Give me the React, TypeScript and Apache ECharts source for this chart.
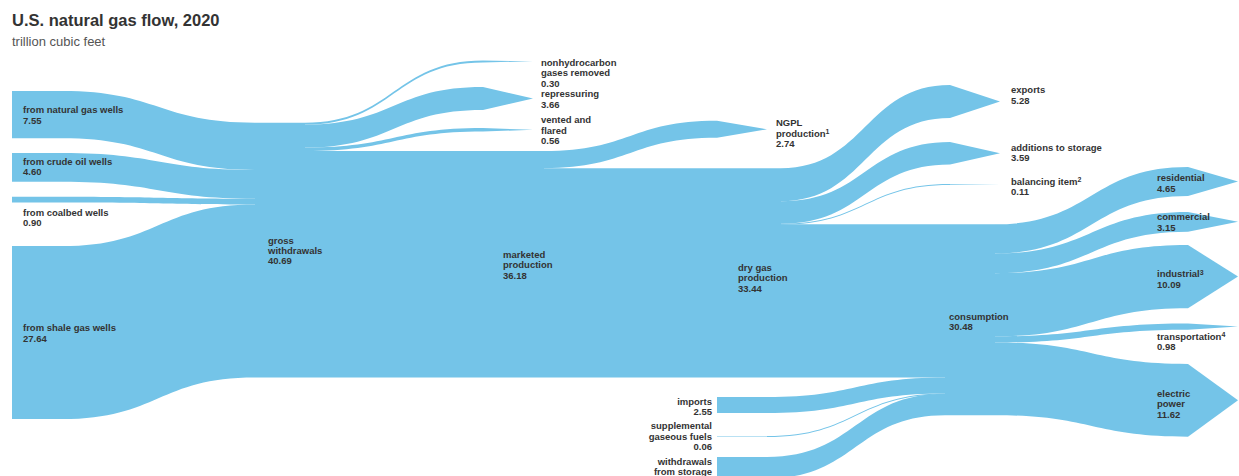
import React, { useEffect, useRef } from "react";
import * as echarts from "echarts";

// ---------- data (trillion cubic feet) ----------
const wellNames = ["natural gas wells", "crude oil wells", "coalbed wells", "shale gas wells"];
const wellValues = [7.55, 4.6, 0.9, 27.64];
const grossName = "gross withdrawals";
const grossOutNames = ["nonhydrocarbon gases removed", "repressuring", "vented and flared", "marketed production"];
const grossOutValues = [0.3, 3.66, 0.56, 36.18];
const marketedOutNames = ["NGPL production", "dry gas production"];
const marketedOutValues = [2.74, 33.44];
const dryOutNames = ["exports", "additions to storage", "balancing item", "consumption"];
const dryOutValues = [5.28, 3.59, 0.11, 24.46];
const supplyNames = ["imports", "supplemental gaseous fuels", "withdrawals from storage"];
const supplyValues = [2.55, 0.06, 3.41];
const endUseNames = ["residential", "commercial", "industrial", "transportation", "electric power"];
const endUseValues = [4.65, 3.15, 10.09, 0.98, 11.62];

const labelLines: Record<string, string[]> = {
  "natural gas wells": ["from natural gas wells"],
  "crude oil wells": ["from crude oil wells"],
  "coalbed wells": ["from coalbed wells"],
  "shale gas wells": ["from shale gas wells"],
  "gross withdrawals": ["gross", "withdrawals"],
  "nonhydrocarbon gases removed": ["nonhydrocarbon", "gases removed"],
  repressuring: ["repressuring"],
  "vented and flared": ["vented and", "flared"],
  "marketed production": ["marketed", "production"],
  "NGPL production": ["NGPL", "production"],
  "dry gas production": ["dry gas", "production"],
  exports: ["exports"],
  "additions to storage": ["additions to storage"],
  "balancing item": ["balancing item"],
  consumption: ["consumption"],
  imports: ["imports"],
  "supplemental gaseous fuels": ["supplemental", "gaseous fuels"],
  "withdrawals from storage": ["withdrawals", "from storage"],
  residential: ["residential"],
  commercial: ["commercial"],
  industrial: ["industrial"],
  transportation: ["transportation"],
  "electric power": ["electric", "power"],
};
// footnote markers (superscripts)
const footnotes: Record<string, string> = {
  "NGPL production": "1",
  "balancing item": "2",
  industrial: "3",
  transportation: "4",
};

// ---------- layout / style ----------
const W = 1239;
const H = 476;
const PX_PER_TCF = 6.26;
const VMAX = H / PX_PER_TCF;
const NODE_W = 50;
const ARROW_LEN = 50;
const FLOW = "#74c4e8";
const TEXT = "#333333";
const FONT = "'Liberation Sans', Arial, Helvetica, sans-serif";

const sum = (a: number[]) => a.reduce((s, v) => s + v, 0);

// node placement: x (px), top y (px) or null when derived, depth column, label [dx, dy from band centre, align]
type Spec = { x: number; y: number | null; depth: number; sink?: boolean; lab: [number, number, string] };
const spec: Record<string, Spec> = {
  "natural gas wells": { x: 12, y: 91, depth: 0, lab: [11, 0.5, "left"] },
  "crude oil wells": { x: 12, y: 153, depth: 0, lab: [11, -1, "left"] },
  "coalbed wells": { x: 12, y: 196.8, depth: 0, lab: [11, 17.7, "left"] },
  "shale gas wells": { x: 12, y: 246, depth: 0, lab: [11, 0.5, "left"] },
  "gross withdrawals": { x: 255, y: 122.7, depth: 1, lab: [13, 0.5, "left"] },
  "nonhydrocarbon gases removed": { x: 483, y: 60.5, depth: 2, sink: true, lab: [58, 11.5, "left"] },
  repressuring: { x: 483, y: 87, depth: 2, sink: true, lab: [58, 0.5, "left"] },
  "vented and flared": { x: 483, y: 128, depth: 2, sink: true, lab: [58, 0.3, "left"] },
  "marketed production": { x: 494, y: null, depth: 2, lab: [9, 0.5, "left"] },
  "NGPL production": { x: 717, y: 120.7, depth: 3, sink: true, lab: [59, 4, "left"] },
  "dry gas production": { x: 731, y: null, depth: 3, lab: [7, 5, "left"] },
  imports: { x: 717, y: 397, depth: 3, lab: [-5, 1.5, "right"] },
  "supplemental gaseous fuels": { x: 717, y: 436, depth: 3, lab: [-5, 0, "right"] },
  "withdrawals from storage": { x: 717, y: 457, depth: 3, lab: [-5, 4, "right"] },
  exports: { x: 950, y: 85, depth: 4, sink: true, lab: [61, -6.5, "left"] },
  "additions to storage": { x: 950, y: 142, depth: 4, sink: true, lab: [61, -1, "left"] },
  "balancing item": { x: 950, y: 184, depth: 4, sink: true, lab: [61, 2, "left"] },
  consumption: { x: 945, y: null, depth: 4, lab: [4, 2, "left"] },
  residential: { x: 1188, y: 167, depth: 5, sink: true, lab: [-31, 1.5, "left"] },
  commercial: { x: 1188, y: 212, depth: 5, sink: true, lab: [-31, 0, "left"] },
  industrial: { x: 1188, y: 245, depth: 5, sink: true, lab: [-31, 2.5, "left"] },
  transportation: { x: 1188, y: 323.5, depth: 5, sink: true, lab: [-31, 14.7, "left"] },
  "electric power": { x: 1188, y: 364, depth: 5, sink: true, lab: [-31, 3.4, "left"] },
};

// links
const links: { source: string; target: string; value: number }[] = [];
wellNames.forEach((n, i) => links.push({ source: n, target: grossName, value: wellValues[i] }));
grossOutNames.forEach((n, i) => links.push({ source: grossName, target: n, value: grossOutValues[i] }));
marketedOutNames.forEach((n, i) => links.push({ source: grossOutNames[3], target: n, value: marketedOutValues[i] }));
dryOutNames.forEach((n, i) => links.push({ source: marketedOutNames[1], target: n, value: dryOutValues[i] }));
supplyNames.forEach((n, i) => links.push({ source: n, target: dryOutNames[3], value: supplyValues[i] }));
endUseNames.forEach((n, i) => links.push({ source: dryOutNames[3], target: n, value: endUseValues[i] }));

const nodeOrder = [
  ...wellNames,
  grossName,
  ...grossOutNames,
  ...marketedOutNames,
  ...supplyNames,
  ...dryOutNames,
  ...endUseNames,
];

const inSum = (name: string) => sum(links.filter((l) => l.target === name).map((l) => l.value));
const outSum = (name: string) => sum(links.filter((l) => l.source === name).map((l) => l.value));
const nodeValue = (name: string) => Math.max(inSum(name), outSum(name));
// value shown in a label: the inflow where there is one, else the outflow
const shownValue = (name: string) => (inSum(name) > 0 ? inSum(name) : outSum(name));

// derived tops so that straight pass-through flows stay level
const tops: Record<string, number> = {};
nodeOrder.forEach((n) => {
  if (spec[n].y != null) tops[n] = spec[n].y as number;
});
tops[grossOutNames[3]] = tops[grossName] + sum(grossOutValues.slice(0, 3)) * PX_PER_TCF;
tops[marketedOutNames[1]] = tops[grossOutNames[3]] + marketedOutValues[0] * PX_PER_TCF;
tops[dryOutNames[3]] = tops[marketedOutNames[1]] + sum(dryOutValues.slice(0, 3)) * PX_PER_TCF;

function labelText(name: string) {
  const lines = labelLines[name].slice();
  if (footnotes[name]) lines[lines.length - 1] += `{s|${footnotes[name]}}`;
  lines.push(shownValue(name).toFixed(2));
  return lines.join("\n");
}

function buildOption() {
  const data: any[] = nodeOrder.map((name) => {
    const s = spec[name];
    const h = nodeValue(name) * PX_PER_TCF;
    return {
      name,
      depth: s.depth,
      localX: s.x / W,
      localY: tops[name] / H,
      itemStyle: { color: s.sink ? "rgba(0,0,0,0)" : FLOW, borderWidth: 0 },
      label: {
        show: true,
        formatter: labelText(name),
        position: [s.lab[0], h / 2 + s.lab[1]],
        align: s.lab[2],
        verticalAlign: "middle",
      },
    };
  });
  // invisible scale node: fixes the library's px-per-unit so flows have the intended widths
  data.push({
    name: "__scale",
    value: VMAX,
    depth: 6,
    localX: 0,
    localY: 0,
    itemStyle: { color: "rgba(0,0,0,0)", borderWidth: 0 },
    label: { show: false },
  });

  const arrowData = nodeOrder
    .filter((n) => spec[n].sink)
    .map((n) => [spec[n].x, tops[n] / PX_PER_TCF, nodeValue(n)]);

  return {
    animation: false,
    backgroundColor: "#ffffff",
    title: {
      text: "U.S. natural gas flow, 2020",
      subtext: "trillion cubic feet",
      left: 12,
      top: 11,
      padding: 0,
      itemGap: 7,
      textStyle: { fontFamily: FONT, fontSize: 16.5, fontWeight: "bold", color: "#333333" },
      subtextStyle: { fontFamily: FONT, fontSize: 13, color: "#555555" },
    },
    grid: { left: 0, top: 0, width: W, height: H, show: false },
    xAxis: { type: "value", min: 0, max: W, show: false },
    yAxis: { type: "value", min: 0, max: VMAX, inverse: true, show: false },
    series: [
      {
        type: "custom",
        coordinateSystem: "cartesian2d",
        silent: true,
        z: 1,
        data: arrowData,
        renderItem: (params: any, api: any) => {
          const x = api.value(0);
          const top = api.value(1);
          const v = api.value(2);
          const a = api.coord([x, top]);
          const b = api.coord([x, top + v]);
          const t = api.coord([x + ARROW_LEN, top + v / 2]);
          return {
            type: "polygon",
            shape: { points: [a, t, b] },
            style: { fill: FLOW },
          };
        },
      },
      {
        type: "sankey",
        left: 0,
        top: 0,
        width: W,
        height: H,
        nodeWidth: NODE_W,
        nodeGap: 0,
        nodeAlign: "left",
        layoutIterations: 0,
        draggable: false,
        silent: true,
        z: 2,
        emphasis: { disabled: true },
        data,
        links,
        lineStyle: { color: FLOW, opacity: 1, curveness: 0.5 },
        label: {
          fontFamily: FONT,
          fontSize: 9.5,
          fontWeight: "bold",
          lineHeight: 10.3,
          color: TEXT,
          rich: {
            s: {
              fontFamily: FONT,
              fontSize: 7,
              fontWeight: "bold",
              color: TEXT,
              lineHeight: 6,
              verticalAlign: "top",
            },
          },
        },
      },
    ],
  };
}

export default function App() {
  const ref = useRef<HTMLDivElement>(null);
  useEffect(() => {
    if (!ref.current) return;
    const chart = echarts.init(ref.current, undefined, { renderer: "svg" });
    chart.setOption(buildOption() as any);
    return () => chart.dispose();
  }, []);
  return (
    <div
      ref={ref}
      style={{ position: "fixed", left: 0, top: 0, width: W, height: H, background: "#fff" }}
    />
  );
}
